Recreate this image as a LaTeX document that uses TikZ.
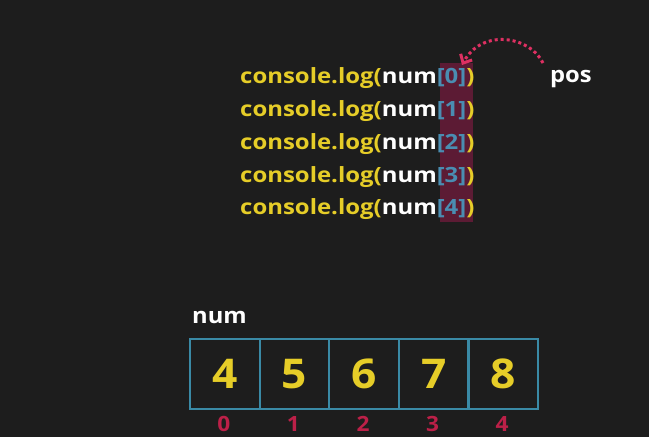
\documentclass[tikz,border=0pt]{standalone}
\usepackage{fontspec}
\setmainfont{Open Sans}
\newfontfamily\codefont[FakeStretch=1.14]{Open Sans}
\newfontfamily\lblfont[FakeStretch=1.08]{Open Sans}
\usetikzlibrary{arrows.meta}
\definecolor{bg}{HTML}{1D1D1D}
\definecolor{cyel}{HTML}{E6CD28}
\definecolor{cblue}{HTML}{4A8DB2}
\definecolor{cbox}{HTML}{3A8AA6}
\definecolor{cidx}{HTML}{BC2048}
\definecolor{chl}{HTML}{5C1B34}
\definecolor{cpink}{HTML}{DE3062}
\tikzset{
  code/.style={anchor=base west, inner sep=0pt, font=\codefont\bfseries\fontsize{21}{24}\selectfont, text=cyel},
  cell/.style={draw=cbox, line width=2.2pt, minimum width=69.6pt, minimum height=70pt, inner sep=0pt, anchor=north west, text=cyel, font=\lblfont\bfseries\fontsize{41}{48}\selectfont},
  idx/.style={text=cidx, font=\lblfont\bfseries\fontsize{21}{22}\selectfont, inner sep=0pt},
  lbl/.style={text=white, font=\lblfont\bfseries\fontsize{22}{26}\selectfont, inner sep=0pt, anchor=base west},
  pointer/.style={cpink, line width=3pt, dash pattern=on 3pt off 3pt, -{Straight Barb[length=7pt,width=13pt,line width=3pt]}},
}
\begin{document}
\begin{tikzpicture}[x=1pt,y=-1pt]
\fill[bg] (0,0) rectangle (649,437);
\useasboundingbox (0,0) rectangle (649,437);
% highlight column
\fill[chl] (440,63) rectangle (473,222);
% code lines
\foreach \i/\y in {0/83,1/116,2/149,3/182,4/214}{
  \node[code] (l\i) at (240,\y) {console.log(\textcolor{white}{num}\textcolor{cblue}{[\i]})};
}
% pos label and arrow
\node[lbl] (pos) at (550,82) {pos};
\coordinate (as) at (543,63);
\coordinate (ae) at (462,65);
\draw[pointer] (as) .. controls (530,36) and (482,28) .. (ae);
% array
\node[lbl] (numlbl) at (192,323) {num};
\foreach \i/\v in {0/4,1/5,2/6,3/7,4/8}{
  \node[cell] (c\i) at ({189+69.6*\i},338) {\v};
  \node[idx] (i\i) at ({189+69.6*\i+34.8},423.5) {\i};
}
\end{tikzpicture}
\end{document}
